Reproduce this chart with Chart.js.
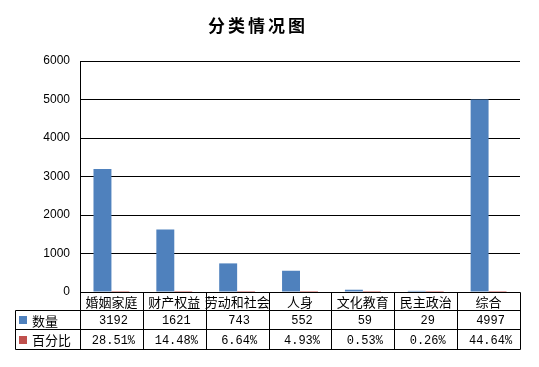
<!DOCTYPE html>
<html>
<head>
<meta charset="utf-8">
<script src="https://cdn.jsdelivr.net/npm/chart.js@4"></script>
<style>
  html, body { margin: 0; padding: 0; background: #fff; }
  #wrap { width: 539px; height: 367px; }
</style>
</head>
<body>
<div id="wrap"><canvas id="chart" width="539" height="367"></canvas></div>
<script>
const chartTitle = "分类情况图";
const categories = ["婚姻家庭", "财产权益", "劳动和社会", "人身", "文化教育", "民主政治", "综合"];
const counts = [3192, 1621, 743, 552, 59, 29, 4997];
const shares = [28.51, 14.48, 6.64, 4.93, 0.53, 0.26, 44.64];
const seriesNames = ["数量", "百分比"];
const seriesColors = ["#4F81BD", "#C0504D"];

const CJK = '"Noto Sans CJK SC", "Noto Sans", sans-serif';
const MONO = '"Liberation Mono", "DejaVu Sans Mono", monospace';

// draws the title and the data table under the plot
const tablePlugin = {
  id: "dataTable",
  afterDraw(chart) {
    const ctx = chart.ctx;
    const area = chart.chartArea;
    const x = chart.scales.x;
    const half = (x.getPixelForValue(1) - x.getPixelForValue(0)) / 2;

    ctx.save();

    // title
    ctx.fillStyle = "#000";
    ctx.font = "bold 17px " + CJK;
    ctx.textAlign = "center";
    ctx.textBaseline = "middle";
    ctx.letterSpacing = "3px";
    ctx.fillText(chartTitle, 258, 26);
    ctx.letterSpacing = "0px";

    const rowTop = Math.round(area.bottom) + 0.5;
    const rows = [rowTop, 310.5, 329.5, 349.5];
    const tableLeft = 15.5;
    const colLeft = Math.round(area.left) + 0.5;
    const colRight = Math.round(area.right) + 0.5;

    ctx.strokeStyle = "#000";
    ctx.lineWidth = 1;
    ctx.beginPath();
    // horizontal lines
    ctx.moveTo(colLeft, rows[0]); ctx.lineTo(colRight, rows[0]);
    for (let r = 1; r < rows.length; r++) {
      ctx.moveTo(tableLeft, rows[r]); ctx.lineTo(colRight, rows[r]);
    }
    // vertical lines
    ctx.moveTo(tableLeft, rows[1]); ctx.lineTo(tableLeft, rows[3]);
    for (let i = 0; i <= categories.length; i++) {
      const px = Math.round(x.getPixelForValue(i) - half) + 0.5;
      ctx.moveTo(px, rows[0]); ctx.lineTo(px, rows[3]);
    }
    ctx.stroke();

    // category row
    ctx.fillStyle = "#000";
    ctx.textAlign = "center";
    ctx.font = "13px " + CJK;
    categories.forEach((c, i) => {
      ctx.fillText(c, x.getPixelForValue(i), (rows[0] + rows[1]) / 2 + 1);
    });

    // series rows
    const rowValues = [
      counts.map((v) => String(v)),
      shares.map((v) => v.toFixed(2) + "%")
    ];
    rowValues.forEach((vals, r) => {
      const cy = (rows[r + 1] + rows[r + 2]) / 2;
      ctx.fillStyle = seriesColors[r];
      ctx.fillRect(19, Math.round(cy) - 4, 8, 8);
      ctx.fillStyle = "#000";
      ctx.textAlign = "left";
      ctx.font = "13px " + CJK;
      ctx.fillText(seriesNames[r], 32, cy + 1);
      ctx.textAlign = "center";
      ctx.font = "12px " + MONO;
      vals.forEach((v, i) => {
        ctx.fillText(v, x.getPixelForValue(i) + 2, cy + 1);
      });
    });

    ctx.restore();
  }
};

new Chart(document.getElementById("chart"), {
  type: "bar",
  data: {
    labels: categories,
    datasets: [
      {
        label: seriesNames[0],
        data: counts,
        backgroundColor: seriesColors[0],
        categoryPercentage: 0.571,
        barPercentage: 1.0
      },
      {
        label: seriesNames[1],
        data: shares.map((s) => s / 100),
        backgroundColor: seriesColors[1],
        categoryPercentage: 0.571,
        barPercentage: 1.0
      }
    ]
  },
  options: {
    responsive: false,
    animation: false,
    devicePixelRatio: 1,
    layout: {
      padding: { left: 20, right: 19, top: 61, bottom: 75 }
    },
    plugins: {
      legend: { display: false },
      title: { display: false },
      tooltip: { enabled: false }
    },
    scales: {
      x: {
        display: false
      },
      y: {
        min: 0,
        max: 6000,
        afterFit: (scale) => { scale.width = 60; },
        ticks: {
          stepSize: 1000,
          padding: 10,
          color: "#000",
          font: { family: '"Liberation Sans", Arial, sans-serif', size: 12 },
          callback: (value) => String(value)
        },
        grid: {
          color: "#000",
          drawTicks: false
        },
        border: { display: true, color: "#000" }
      }
    }
  },
  plugins: [tablePlugin]
});
</script>
</body>
</html>
